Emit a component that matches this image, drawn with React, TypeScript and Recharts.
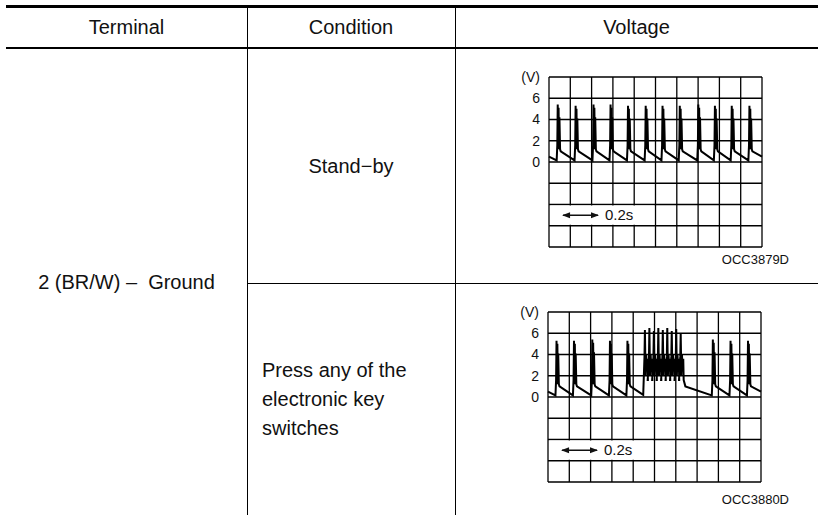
import {
	CartesianGrid,
	Line,
	LineChart,
	ReferenceArea,
	ReferenceLine,
	XAxis,
	YAxis,
} from "recharts";

const headers = ["Terminal", "Condition", "Voltage"];
const terminalLabel = "2 (BR/W) –  Ground";
const standbyLabel = "Stand−by";
const pressLabel = ["Press any of the", "electronic key", "switches"];
const figureCodes = ["OCC3879D", "OCC3880D"];

// scope grid: 10 x 8 divisions, 2 V per division
const gridDivisions = [0, 1, 2, 3, 4, 5, 6, 7, 8, 9, 10];
const voltTicks = [-8, -6, -4, -2, 0, 2, 4, 6, 8];
const voltLabels = [0, 2, 4, 6];

// spike positions (in divisions) and peak volts
const standbySpikeTimes = [0.42, 1.26, 2.1, 2.9, 3.72, 4.55, 5.34, 6.15, 7.02, 7.8, 8.59, 9.42];
const standbySpikePeaks = [5.4, 5.3, 5.4, 5.4, 5.3, 5.3, 5.3, 5.3, 5.4, 5.3, 5.3, 5.3];

const pressSpikeTimes = [0.41, 1.23, 2.09, 2.92, 3.74, 7.75, 8.58, 9.4];
const pressSpikePeaks = [5.3, 5.3, 5.4, 5.3, 5.3, 5.4, 5.3, 5.3];
const pressBurstTimes = [4.55, 4.76, 4.97, 5.18, 5.39, 5.6, 5.81, 6.02, 6.23];
const pressBurstPeaks = [6.3, 6.5, 6.2, 6.5, 6.3, 6.5, 6.2, 6.4, 6.0];

type Pt = { x: number; v: number };

function buildTrace(
	times: number[],
	peaks: number[],
	burstTimes: number[] = [],
	burstPeaks: number[] = [],
): Pt[] {
	const events = [
		...times.map((t, i) => ({ t, peak: peaks[i], burst: false })),
		...burstTimes.map((t, i) => ({ t, peak: burstPeaks[i], burst: true })),
	].sort((a, b) => a.t - b.t);
	const pts: Pt[] = [{ x: 0, v: 0.5 }];
	events.forEach((e, i) => {
		const prev = events[i - 1];
		const next = events[i + 1];
		if (e.burst) {
			pts.push({ x: e.t - 0.08, v: prev?.burst ? 1.6 : 0.2 });
			pts.push({ x: e.t - 0.02, v: 3.8 });
			pts.push({ x: e.t, v: e.peak });
			pts.push({ x: e.t + 0.03, v: 2.0 });
			pts.push({ x: e.t + 0.06, v: 4.0 });
			pts.push({ x: e.t + 0.09, v: 2.4 });
			pts.push({ x: e.t + 0.12, v: 3.6 });
			pts.push({ x: e.t + 0.14, v: 1.6 });
			if (!next?.burst) pts.push({ x: e.t + 0.22, v: 1.0 });
		} else {
			pts.push({ x: e.t - 0.06, v: 0.15 });
			pts.push({ x: e.t - 0.03, v: 1.6 });
			pts.push({ x: e.t - 0.01, v: e.peak });
			pts.push({ x: e.t + 0.01, v: 1.2 });
			pts.push({ x: e.t + 0.03, v: e.peak - 0.3 });
			pts.push({ x: e.t + 0.05, v: 1.4 });
			pts.push({ x: e.t + 0.07, v: e.peak - 1.2 });
			pts.push({ x: e.t + 0.1, v: 1.2 });
			pts.push({ x: e.t + 0.13, v: 1.0 });
		}
	});
	pts.push({ x: 10, v: 0.5 });
	return pts;
}

const standbyTrace = buildTrace(standbySpikeTimes, standbySpikePeaks);
const pressTrace = buildTrace(pressSpikeTimes, pressSpikePeaks, pressBurstTimes, pressBurstPeaks);

const FONT = '"Liberation Sans", Arial, sans-serif';

function ArrowShape(props: any) {
	const { x1, y1, x2, y2 } = props;
	if (x1 == null) return null;
	const h = 3;
	return (
		<g>
			<line x1={x1} y1={y1} x2={x2} y2={y2} stroke="#111" strokeWidth={1.5} />
			<path d={`M${x1 - 1},${y1} L${x1 + 7},${y1 - h} L${x1 + 7},${y1 + h} Z`} fill="#111" />
			<path d={`M${x2 + 1},${y2} L${x2 - 7},${y2 - h} L${x2 - 7},${y2 + h} Z`} fill="#111" />
		</g>
	);
}

function Scope({ trace, left, top }: { trace: Pt[]; left: number; top: number }) {
	return (
		<div style={{ position: "absolute", left, top }}>
			<LineChart
				width={252}
				height={185}
				data={trace}
				margin={{ top: 10, right: 5, bottom: 5, left: 0 }}
			>
				<CartesianGrid stroke="#000" strokeWidth={1.3} syncWithTicks />
				<XAxis
					dataKey="x"
					type="number"
					domain={[0, 10]}
					ticks={gridDivisions}
					interval={0}
					hide
				/>
				<YAxis
					type="number"
					domain={[-8, 8]}
					ticks={voltTicks}
					interval={0}
					width={34}
					axisLine={false}
					tickLine={false}
					tickMargin={3}
					tick={{ fontSize: 14, fill: "#111", fontFamily: FONT }}
					tickFormatter={(v: number) =>
						v === 8 ? "(V)" : voltLabels.includes(v) ? String(v) : ""
					}
				/>
				<ReferenceArea
					x1={0.06}
					x2={4.94}
					y1={-5.9}
					y2={-4.1}
					fill="#fff"
					fillOpacity={1}
					stroke="none"
				/>
				<ReferenceLine
					segment={[
						{ x: 0.66, y: -5 },
						{ x: 2.3, y: -5 },
					]}
					shape={ArrowShape}
					label={{
						value: "0.2s",
						position: "right",
						offset: 7,
						fontSize: 15,
						fill: "#111",
						fontFamily: FONT,
					}}
				/>
				<Line
					dataKey="v"
					type="linear"
					stroke="#000"
					strokeWidth={2}
					strokeLinejoin="miter"
					dot={false}
					isAnimationActive={false}
				/>
			</LineChart>
		</div>
	);
}

const abs = (s: React.CSSProperties): React.CSSProperties => ({ position: "absolute", ...s });

export default function App() {
	return (
		<div
			style={{
				position: "absolute",
				left: 0,
				top: 0,
				width: 818,
				height: 515,
				background: "#fff",
				fontFamily: FONT,
				color: "#111",
				overflow: "hidden",
			}}
		>
			{/* table rules */}
			<div style={abs({ left: 6, top: 5, width: 812, height: 3, background: "#000" })} />
			<div style={abs({ left: 6, top: 47, width: 812, height: 2, background: "#000" })} />
			<div style={abs({ left: 247, top: 5, width: 1, height: 510, background: "#000" })} />
			<div style={abs({ left: 455, top: 5, width: 1, height: 510, background: "#000" })} />
			<div style={abs({ left: 247, top: 283, width: 571, height: 1, background: "#000" })} />

			{/* headers */}
			{[
				[6, 247],
				[247, 455],
				[455, 818],
			].map(([l, r], i) => (
				<div
					key={headers[i]}
					style={abs({
						left: l,
						top: 8,
						width: r - l,
						height: 39,
						display: "flex",
						alignItems: "center",
						justifyContent: "center",
						fontSize: 20,
					})}
				>
					{headers[i]}
				</div>
			))}

			<div
				style={abs({
					left: 6,
					top: 49,
					width: 241,
					height: 466,
					display: "flex",
					alignItems: "center",
					justifyContent: "center",
					fontSize: 20,
					whiteSpace: "pre",
				})}
			>
				{terminalLabel}
			</div>

			<div
				style={abs({
					left: 247,
					top: 49,
					width: 208,
					height: 234,
					display: "flex",
					alignItems: "center",
					justifyContent: "center",
					fontSize: 20,
				})}
			>
				{standbyLabel}
			</div>

			<div
				style={abs({
					left: 262,
					top: 284,
					width: 193,
					height: 231,
					display: "flex",
					flexDirection: "column",
					justifyContent: "center",
					fontSize: 20,
					lineHeight: "29px",
				})}
			>
				{pressLabel.map((s) => (
					<div key={s}>{s}</div>
				))}
			</div>

			<Scope trace={standbyTrace} left={515} top={67} />
			<Scope trace={pressTrace} left={514} top={302} />

			<div style={abs({ right: 29, top: 252, fontSize: 13 })}>{figureCodes[0]}</div>
			<div style={abs({ right: 29, top: 492, fontSize: 13 })}>{figureCodes[1]}</div>
		</div>
	);
}
